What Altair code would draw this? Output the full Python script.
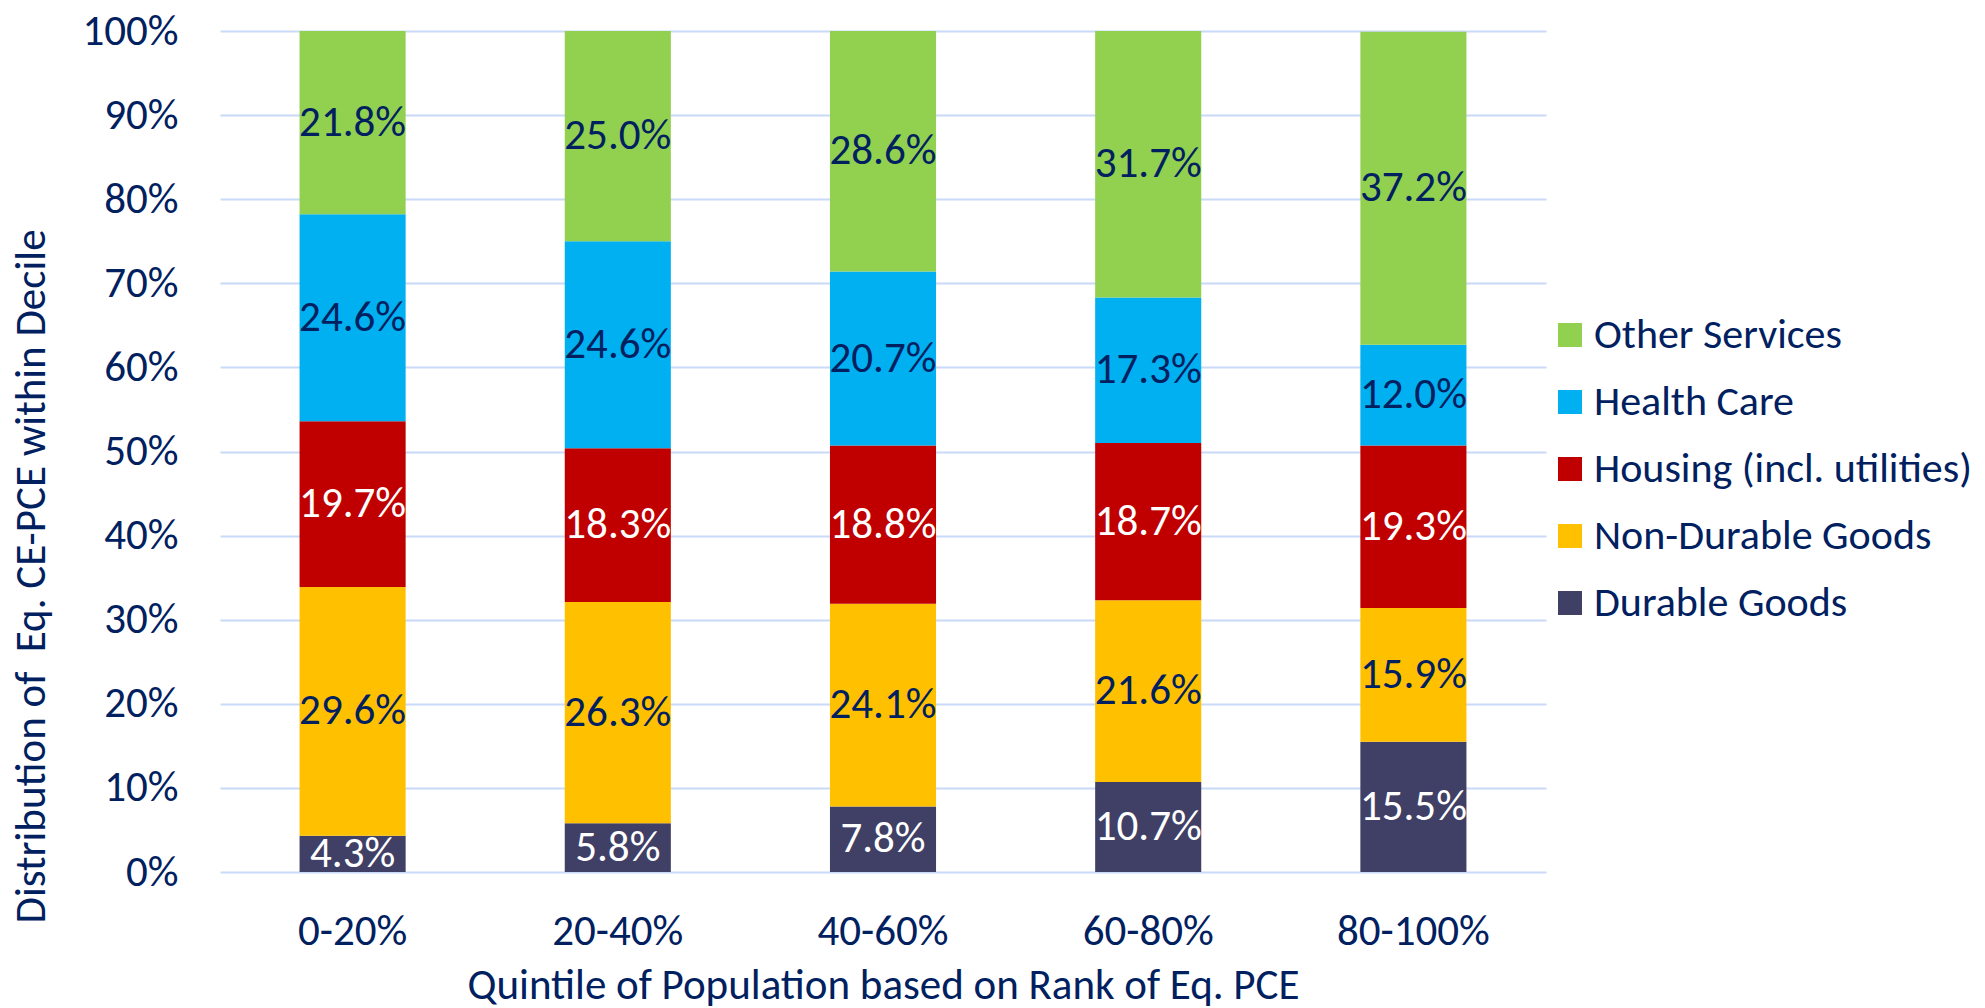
import altair as alt
import pandas as pd

quintiles = ["0-20%", "20-40%", "40-60%", "60-80%", "80-100%"]
categories = ["Other Services", "Health Care", "Housing (incl. utilities)", "Non-Durable Goods", "Durable Goods"]
colors = ["#92D050", "#00B0F0", "#C00000", "#FFC000", "#403F66"]
label_colors = ["#002060", "#002060", "#FFFFFF", "#002060", "#FFFFFF"]

durable = [4.3, 5.8, 7.8, 10.7, 15.5]
non_durable = [29.6, 26.3, 24.1, 21.6, 15.9]
housing = [19.7, 18.3, 18.8, 18.7, 19.3]
health = [24.6, 24.6, 20.7, 17.3, 12.0]
other = [21.8, 25.0, 28.6, 31.7, 37.2]

series = {
    "Durable Goods": durable,
    "Non-Durable Goods": non_durable,
    "Housing (incl. utilities)": housing,
    "Health Care": health,
    "Other Services": other,
}
stack_order = ["Durable Goods", "Non-Durable Goods", "Housing (incl. utilities)", "Health Care", "Other Services"]

rows = []
for cat, vals in series.items():
    for q, v in zip(quintiles, vals):
        rows.append({
            "q": q, "cat": cat, "v": v / 100.0,
            "ord": stack_order.index(cat),
            "lbl": f"{v:.1f}%",
            "tc": label_colors[categories.index(cat)],
        })
df = pd.DataFrame(rows)

FONT = "Carlito, Lato, sans-serif"
NAVY = "#002060"
FS = 43
LFS = 42

x_enc = alt.X("q:N", sort=quintiles,
              scale=alt.Scale(paddingInner=0.6, paddingOuter=0.3),
              axis=alt.Axis(title="Quintile of Population based on Rank of Eq. PCE",
                            labelAngle=0, labelPadding=38, ticks=False, domain=False,
                            titleX=663, titleY=113, titleBaseline="middle"))

base = alt.Chart(df).transform_stack(
    stack="v", groupby=["q"], as_=["y0", "y1"], sort=[alt.SortField("ord", order="ascending")]
).transform_calculate(mid="(datum.y0 + datum.y1) / 2")

bars = base.mark_bar().encode(
    x=x_enc,
    y=alt.Y("y0:Q", scale=alt.Scale(domain=[0, 1]),
            axis=alt.Axis(title="Distribution of \u00a0Eq. CE-PCE within Decile", format=".0%",
                          values=[i / 10 for i in range(11)], ticks=False, domain=False,
                          labelPadding=42, titleX=-189, titleY=545, titleAngle=-90,
                          titleBaseline="middle")),
    y2="y1:Q",
    color=alt.Color("cat:N", scale=alt.Scale(domain=categories, range=colors),
                    legend=alt.Legend(title=None, orient="none", legendX=1329, legendY=283,
                                      symbolType="square", symbolSize=576, symbolStrokeWidth=0,
                                      labelFontSize=LFS, labelColor=NAVY, labelFont=FONT,
                                      rowPadding=25, labelOffset=3, padding=0,
                                      labelLimit=600)),
)

labels = base.mark_text(fontSize=FS, font=FONT, baseline="middle").encode(
    x=alt.X("q:N", sort=quintiles),
    y=alt.Y("mid:Q"),
    text="lbl:N",
    color=alt.Color("tc:N", scale=None),
)

chart = (bars + labels).properties(
    width=1326, height=841,
    autosize=alt.AutoSizeParams(type="none"),
    padding={"left": 212, "top": 23, "right": 430, "bottom": 135},
).configure_view(stroke=None).configure_axis(
    labelFont=FONT, titleFont=FONT, labelFontSize=FS, titleFontSize=FS,
    labelColor=NAVY, titleColor=NAVY, titleFontWeight="normal",
    gridColor="#C9DAF8", gridWidth=2,
)

chart.save("out.html", embed_options={"renderer": "svg", "actions": False})
